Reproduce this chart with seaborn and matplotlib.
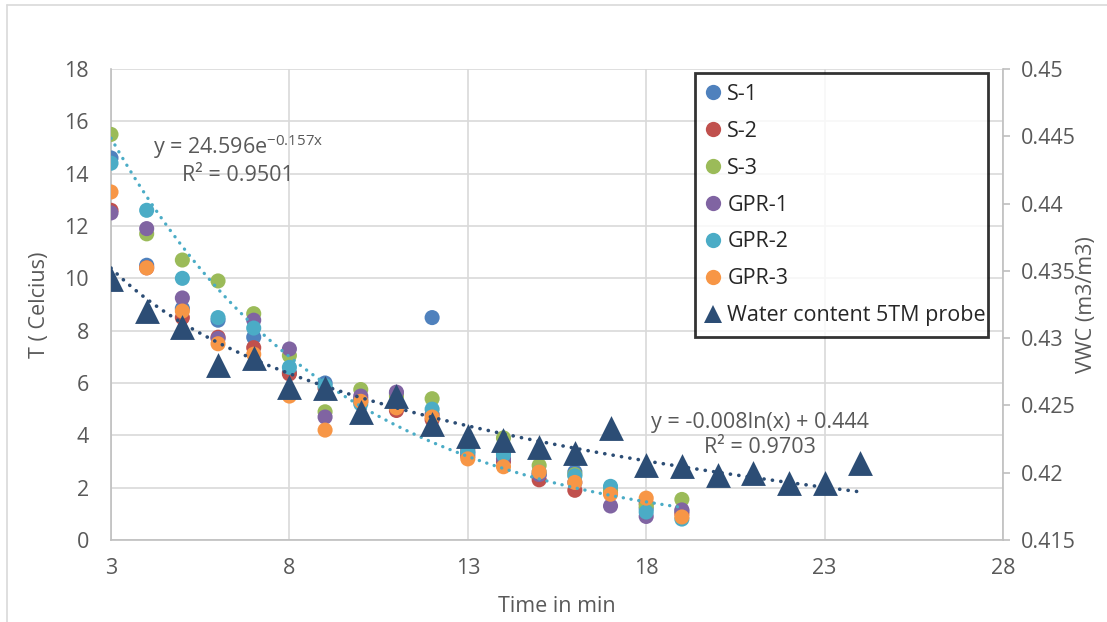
import numpy as np
import pandas as pd
import matplotlib
matplotlib.use("Agg")
import matplotlib.pyplot as plt
from matplotlib.lines import Line2D
import seaborn as sns

#%% Data
time_min = [3, 4, 5, 6, 7, 8, 9, 10, 11, 12, 13, 14, 15, 16, 17, 18, 19]
s1   = [14.6, 10.5, 8.85, 8.4, 7.75, 6.4, 6.0, 5.4, 5.6, 8.5, 3.3, 3.3, 2.5, 2.6, 1.9, 1.2, 1.1]
s2   = [12.6, 10.4, 8.5, 7.75, 7.35, 6.35, 5.8, 5.3, 4.95, 4.6, 3.2, 3.0, 2.3, 1.9, 1.8, 1.4, 1.0]
s3   = [15.5, 11.7, 10.7, 9.9, 8.65, 7.05, 4.9, 5.75, 5.5, 5.4, 3.5, 3.9, 2.85, 2.5, 1.9, 1.3, 1.55]
gpr1 = [12.5, 11.9, 9.25, 7.7, 8.4, 7.3, 4.7, 5.5, 5.65, 4.8, 3.4, 3.1, 2.5, 2.2, 1.3, 0.9, 1.15]
gpr2 = [14.4, 12.6, 10.0, 8.5, 8.1, 6.6, 5.9, 5.2, 5.2, 5.0, 3.35, 3.25, 2.6, 2.45, 2.05, 1.07, 0.8]
gpr3 = [13.3, 10.4, 8.75, 7.5, 7.1, 5.5, 4.2, 5.3, 5.05, 4.7, 3.1, 2.8, 2.6, 2.2, 1.75, 1.6, 0.88]

probe_time = [3, 4, 5, 6, 7, 8, 9, 10, 11, 12, 13, 14, 15, 16, 17, 18, 19, 20, 21, 22, 23, 24]
probe_vwc = [0.4344, 0.4320, 0.4308, 0.4280, 0.4285, 0.4264, 0.4263, 0.4245, 0.4257,
             0.4236, 0.4227, 0.4224, 0.4219, 0.4215, 0.4233, 0.4206, 0.4205, 0.4198,
             0.4200, 0.4192, 0.4192, 0.4207]

# trendline coefficients as printed on the chart
exp_a, exp_b = 24.596, -0.157
log_a, log_b = -0.008, 0.444

series = {"S-1": s1, "S-2": s2, "S-3": s3, "GPR-1": gpr1, "GPR-2": gpr2, "GPR-3": gpr3}
colors = {"S-1": "#4F81BD", "S-2": "#C0504D", "S-3": "#9BBB59",
          "GPR-1": "#8064A2", "GPR-2": "#4BACC6", "GPR-3": "#F79646"}
probe_color = "#2C4D75"

df = pd.concat([pd.DataFrame({"time": time_min, "T": v, "series": k}) for k, v in series.items()],
               ignore_index=True)
probe = pd.DataFrame({"time": probe_time, "VWC": probe_vwc})

#%% Style
sns.set_style("white")
plt.rcParams["font.family"] = ["Open Sans", "DejaVu Sans"]
plt.rcParams["mathtext.default"] = "regular"
grey_txt = "#595959"
grid_c = "#D9D9D9"
axis_c = "#BFBFBF"
fs = 15.5

fig = plt.figure(figsize=(11.07, 6.22), dpi=100)
ax = fig.add_axes([111/1107, 1-540/622, 892/1107, 471/622])
ax2 = ax.twinx()

#%% Primary axis: temperatures
sns.scatterplot(data=df, x="time", y="T", hue="series", palette=colors,
                s=118, linewidth=0, legend=False, ax=ax, zorder=3)

tx = np.linspace(3, 19, 200)
sns.lineplot(x=tx, y=exp_a*np.exp(exp_b*tx), ax=ax, color="#4BACC6", lw=2.4,
             linestyle=(0, (0.05, 2.3)), dash_capstyle="round", zorder=4)

ax.set_xlim(3, 28)
ax.set_ylim(0, 18)
ax.set_xticks(range(3, 29, 5))
ax.set_yticks(range(0, 19, 2))
ax.grid(True, color=grid_c, lw=1.2)
ax.set_axisbelow(True)
for side in ["top", "right"]:
    ax.spines[side].set_visible(False)
for side in ["left", "bottom"]:
    ax.spines[side].set_color(axis_c)
    ax.spines[side].set_linewidth(1.2)
ax.tick_params(axis="both", length=0, labelsize=fs, labelcolor=grey_txt)
ax.tick_params(axis="y", pad=16)
ax.tick_params(axis="x", pad=13)
ax.set_xlabel("Time in min", fontsize=fs, color=grey_txt)
ax.set_ylabel("T ( Celcius)", fontsize=fs, color=grey_txt)
ax.xaxis.set_label_coords(0.5, -0.118)
ax.yaxis.set_label_coords(-0.068, 0.5)

ax.text(6.55, 14.55, "y = 24.596e$^{-0.157x}$\nR² = 0.9501", ha="center", va="center",
        fontsize=fs, color=grey_txt, linespacing=1.25, zorder=6)

#%% Secondary axis: water content
sns.scatterplot(data=probe, x="time", y="VWC", marker="^", s=320, color=probe_color,
                linewidth=0, legend=False, ax=ax2, zorder=3)
px = np.linspace(3, 24, 200)
sns.lineplot(x=px, y=log_a*np.log(px) + log_b, ax=ax2, color=probe_color, lw=2.6,
             linestyle=(0, (0.05, 2.3)), dash_capstyle="round", zorder=4)

ax2.set_ylim(0.415, 0.45)
ax2.set_yticks(np.arange(0.415, 0.4501, 0.005))
ax2.yaxis.set_major_formatter(matplotlib.ticker.FuncFormatter(lambda v, p: "%g" % round(v, 3)))
for side in ["top", "left", "bottom"]:
    ax2.spines[side].set_visible(False)
ax2.spines["right"].set_color(axis_c)
ax2.spines["right"].set_linewidth(1.2)
ax2.tick_params(axis="y", direction="out", length=5, width=1.2, color=axis_c,
                labelsize=fs, labelcolor=grey_txt, pad=8)
ax2.set_ylabel("VWC (m3/m3)", fontsize=fs, color=grey_txt)
ax2.yaxis.set_label_coords(1.082, 0.5)
ax2.set_xlabel("")

ax2.text(21.2, 0.4228, "y = -0.008ln(x) + 0.444\nR² = 0.9703", ha="center", va="center",
         fontsize=fs, color=grey_txt, linespacing=1.3, zorder=6)

#%% Legend
handles = [Line2D([], [], ls="", marker="o", ms=11, mew=0, color=colors[k], label=k) for k in series]
handles.append(Line2D([], [], ls="", marker="^", ms=13, mew=0, color=probe_color,
                      label="Water content 5TM probe"))
leg = ax2.legend(handles=handles, loc="upper left", mode="expand",
                 bbox_to_anchor=(695/1107, 1-73/622, 293/1107, 0), bbox_transform=fig.transFigure,
                 fontsize=fs, frameon=True, fancybox=False, borderaxespad=0, borderpad=0.5,
                 handlelength=0.7, handletextpad=0.3, labelspacing=0.74)
leg.get_frame().set_edgecolor("black")
leg.get_frame().set_linewidth(2)
leg.set_zorder(10)

# chart area border
fig.add_artist(Line2D([7/1107, 7/1107], [0, 1-5/622], color=grid_c, lw=1.2))
fig.add_artist(Line2D([7/1107, 1], [1-5/622, 1-5/622], color=grid_c, lw=1.2))

fig.savefig("out.png", dpi=100)
